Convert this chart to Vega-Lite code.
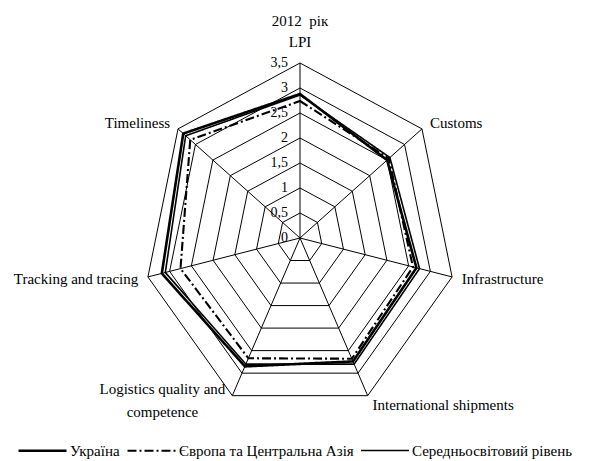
{
  "$schema": "https://vega.github.io/schema/vega-lite/v6.json",
  "width": 312,
  "height": 350,
  "autosize": "none",
  "padding": {"left": 144, "top": 63, "right": 134, "bottom": 48},
  "title": {"text": "2012\u00a0\u00a0рік", "font": "Liberation Serif", "fontSize": 15, "fontWeight": "normal", "color": "black", "anchor": "middle", "offset": 6},
  "config": {
    "view": {"stroke": null},
    "font": "Liberation Serif",
    "text": {"font": "Liberation Serif", "fontSize": 15, "color": "black"}
  },
  "datasets": {
    "axes": [
      {"axis": "LPI", "i": 0, "label": "LPI"},
      {"axis": "Customs", "i": 1, "label": "Customs"},
      {"axis": "Infrastructure", "i": 2, "label": "Infrastructure"},
      {"axis": "International shipments", "i": 3, "label": "International shipments"},
      {"axis": "Logistics quality and competence", "i": 4, "label": "Logistics quality and\ncompetence"},
      {"axis": "Tracking and tracing", "i": 5, "label": "Tracking and tracing"},
      {"axis": "Timeliness", "i": 6, "label": "Timeliness"}
    ],
    "rings": [
      {"level": 0, "lab": "0", "i": []},
      {"level": 0.5, "lab": "0,5", "i": [0, 1, 2, 3, 4, 5, 6]},
      {"level": 1, "lab": "1", "i": [0, 1, 2, 3, 4, 5, 6]},
      {"level": 1.5, "lab": "1,5", "i": [0, 1, 2, 3, 4, 5, 6]},
      {"level": 2, "lab": "2", "i": [0, 1, 2, 3, 4, 5, 6]},
      {"level": 2.5, "lab": "2,5", "i": [0, 1, 2, 3, 4, 5, 6]},
      {"level": 3, "lab": "3", "i": [0, 1, 2, 3, 4, 5, 6]},
      {"level": 3.5, "lab": "3,5", "i": [0, 1, 2, 3, 4, 5, 6]}
    ],
    "lpi": [
      {"series": "Україна", "axis": "LPI", "value": 2.88},
      {"series": "Україна", "axis": "Customs", "value": 2.5},
      {"series": "Україна", "axis": "Infrastructure", "value": 2.68},
      {"series": "Україна", "axis": "International shipments", "value": 2.74},
      {"series": "Україна", "axis": "Logistics quality and competence", "value": 2.85},
      {"series": "Україна", "axis": "Tracking and tracing", "value": 3.18},
      {"series": "Україна", "axis": "Timeliness", "value": 3.35},
      {"series": "Європа та Центральна Азія", "axis": "LPI", "value": 2.74},
      {"series": "Європа та Центральна Азія", "axis": "Customs", "value": 2.55},
      {"series": "Європа та Центральна Азія", "axis": "Infrastructure", "value": 2.6},
      {"series": "Європа та Центральна Азія", "axis": "International shipments", "value": 2.68},
      {"series": "Європа та Центральна Азія", "axis": "Logistics quality and competence", "value": 2.67},
      {"series": "Європа та Центральна Азія", "axis": "Tracking and tracing", "value": 2.75},
      {"series": "Європа та Центральна Азія", "axis": "Timeliness", "value": 3.15},
      {"series": "Середньосвітовий рівень", "axis": "LPI", "value": 2.86},
      {"series": "Середньосвітовий рівень", "axis": "Customs", "value": 2.58},
      {"series": "Середньосвітовий рівень", "axis": "Infrastructure", "value": 2.75},
      {"series": "Середньосвітовий рівень", "axis": "International shipments", "value": 2.8},
      {"series": "Середньосвітовий рівень", "axis": "Logistics quality and competence", "value": 2.8},
      {"series": "Середньосвітовий рівень", "axis": "Tracking and tracing", "value": 3.1},
      {"series": "Середньосвітовий рівень", "axis": "Timeliness", "value": 3.28}
    ]
  },
  "layer": [
    {
      "data": {"name": "rings"},
      "transform": [
        {"filter": "datum.level > 0"},
        {"flatten": ["i"]},
        {"calculate": "datum.i * 2 * PI / 7", "as": "ang"},
        {"calculate": "datum.level * sin(datum.ang)", "as": "x"},
        {"calculate": "datum.level * cos(datum.ang)", "as": "y"}
      ],
      "mark": {"type": "line", "interpolate": "linear-closed", "color": "black", "strokeWidth": 1},
      "encoding": {
        "x": {"field": "x", "type": "quantitative", "scale": {"domain": [-3.5, 3.5], "nice": false, "zero": false}, "axis": null},
        "y": {"field": "y", "type": "quantitative", "scale": {"domain": [-3.5, 3.5], "nice": false, "zero": false}, "axis": null},
        "detail": {"field": "level", "type": "nominal"},
        "order": {"field": "i", "type": "quantitative"}
      }
    },
    {
      "data": {"name": "axes"},
      "transform": [
        {"calculate": "datum.i * 2 * PI / 7", "as": "ang"},
        {"calculate": "3.5 * sin(datum.ang)", "as": "x"},
        {"calculate": "3.5 * cos(datum.ang)", "as": "y"}
      ],
      "mark": {"type": "rule", "color": "black", "strokeWidth": 1},
      "encoding": {
        "x": {"field": "x", "type": "quantitative"},
        "y": {"field": "y", "type": "quantitative"},
        "x2": {"datum": 0},
        "y2": {"datum": 0}
      }
    },
    {
      "data": {"name": "lpi"},
      "transform": [
        {"lookup": "axis", "from": {"data": {"name": "axes"}, "key": "axis", "fields": ["i"]}},
        {"calculate": "datum.i * 2 * PI / 7", "as": "ang"},
        {"calculate": "datum.value * sin(datum.ang)", "as": "x"},
        {"calculate": "datum.value * cos(datum.ang)", "as": "y"}
      ],
      "mark": {"type": "line", "interpolate": "linear-closed"},
      "encoding": {
        "x": {"field": "x", "type": "quantitative"},
        "y": {"field": "y", "type": "quantitative"},
        "order": {"field": "i", "type": "quantitative"},
        "color": {
          "field": "series", "type": "nominal",
          "scale": {"domain": ["Україна", "Європа та Центральна Азія", "Середньосвітовий рівень"], "range": ["black", "black", "black"]},
          "legend": {"title": null, "orient": "none", "legendX": -127, "legendY": 362, "direction": "horizontal", "symbolType": "stroke", "symbolSize": 2304, "labelFont": "Liberation Serif", "labelFontSize": 15, "labelColor": "black", "labelOffset": 2, "labelLimit": 400, "columnPadding": 3, "padding": 0}
        },
        "strokeDash": {
          "field": "series", "type": "nominal",
          "scale": {"domain": ["Україна", "Європа та Центральна Азія", "Середньосвітовий рівень"], "range": [[1, 0], [9, 3, 2, 3], [1, 0]]},
          "legend": {"title": null, "orient": "none", "legendX": -127, "legendY": 362, "direction": "horizontal", "symbolType": "stroke", "symbolSize": 2304, "labelFont": "Liberation Serif", "labelFontSize": 15, "labelColor": "black", "labelOffset": 2, "labelLimit": 400, "columnPadding": 3, "padding": 0}
        },
        "strokeWidth": {
          "field": "series", "type": "nominal",
          "scale": {"domain": ["Україна", "Європа та Центральна Азія", "Середньосвітовий рівень"], "range": [2.6, 1.6, 1]},
          "legend": {"title": null, "orient": "none", "legendX": -127, "legendY": 362, "direction": "horizontal", "symbolType": "stroke", "symbolSize": 2304, "labelFont": "Liberation Serif", "labelFontSize": 15, "labelColor": "black", "labelOffset": 2, "labelLimit": 400, "columnPadding": 3, "padding": 0}
        }
      }
    },
    {
      "data": {"name": "rings"},
      "mark": {"type": "text", "align": "right", "baseline": "middle", "dx": -12, "fontSize": 14, "color": "black", "fill": "black"},
      "encoding": {
        "x": {"datum": 0, "type": "quantitative"},
        "y": {"field": "level", "type": "quantitative"},
        "text": {"field": "lab", "type": "nominal"}
      }
    },
    {
      "data": {"name": "axes"},
      "transform": [
        {"filter": "datum.i >= 1 && datum.i <= 3"},
        {"calculate": "datum.i * 2 * PI / 7", "as": "ang"},
        {"calculate": "3.7 * sin(datum.ang)", "as": "x"},
        {"calculate": "3.7 * cos(datum.ang)", "as": "y"}
      ],
      "mark": {"type": "text", "align": "left", "baseline": "middle", "dx": 1, "color": "black"},
      "encoding": {
        "x": {"field": "x", "type": "quantitative"},
        "y": {"field": "y", "type": "quantitative"},
        "text": {"field": "label", "type": "nominal"}
      }
    },
    {
      "data": {"name": "axes"},
      "transform": [
        {"filter": "datum.i >= 5"},
        {"calculate": "datum.i * 2 * PI / 7", "as": "ang"},
        {"calculate": "3.7 * sin(datum.ang)", "as": "x"},
        {"calculate": "3.7 * cos(datum.ang)", "as": "y"}
      ],
      "mark": {"type": "text", "align": "right", "baseline": "middle", "dx": -1, "color": "black"},
      "encoding": {
        "x": {"field": "x", "type": "quantitative"},
        "y": {"field": "y", "type": "quantitative"},
        "text": {"field": "label", "type": "nominal"}
      }
    },
    {
      "data": {"name": "axes"},
      "transform": [
        {"filter": "datum.i == 0"},
        {"calculate": "datum.i * 2 * PI / 7", "as": "ang"},
        {"calculate": "3.7 * sin(datum.ang)", "as": "x"},
        {"calculate": "3.7 * cos(datum.ang)", "as": "y"}
      ],
      "mark": {"type": "text", "align": "center", "baseline": "middle", "dy": -11, "color": "black"},
      "encoding": {
        "x": {"field": "x", "type": "quantitative"},
        "y": {"field": "y", "type": "quantitative"},
        "text": {"field": "label", "type": "nominal"}
      }
    },
    {
      "data": {"name": "axes"},
      "transform": [
        {"filter": "datum.i == 4"},
        {"calculate": "datum.i * 2 * PI / 7", "as": "ang"},
        {"calculate": "3.7 * sin(datum.ang)", "as": "x"},
        {"calculate": "3.7 * cos(datum.ang)", "as": "y"}
      ],
      "mark": {"type": "text", "align": "center", "baseline": "middle", "dx": -66, "dy": -16, "lineBreak": "\n", "lineHeight": 23, "color": "black"},
      "encoding": {
        "x": {"field": "x", "type": "quantitative"},
        "y": {"field": "y", "type": "quantitative"},
        "text": {"field": "label", "type": "nominal"}
      }
    }
  ]
}
